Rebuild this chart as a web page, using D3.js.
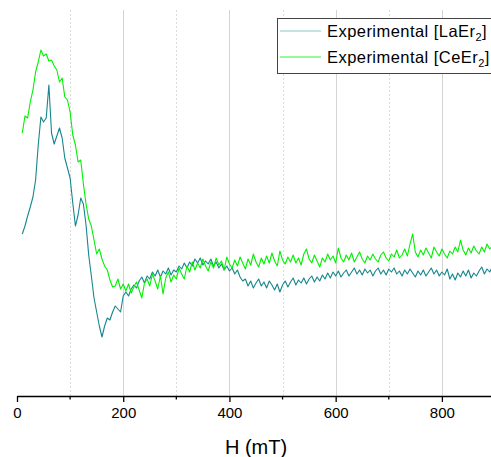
<!DOCTYPE html>
<html>
<head>
<meta charset="utf-8">
<script src="https://cdn.jsdelivr.net/npm/d3@7"></script>
<style>
  body { margin: 0; background: #fff; }
  svg { display: block; font-family: Arial, "Liberation Sans", sans-serif; }
</style>
</head>
<body>
<svg id="mainSvg" width="491" height="457"></svg>
<script>
// field values H (mT)
var fieldH = [10,15,20,25,30,35,40,45,50,55,60,65,70,75,80,85,90,95,100,105,110,115,120,125,130,135,140,145,150,155,160,165,170,175,180,185,190,195,
  200,205,210,215,220,225,230,235,240,245,250,255,260,265,270,275,280,285,290,295,300,305,310,315,320,325,330,335,340,345,350,355,360,365,370,375,380,385,390,395,
  400,405,410,415,420,425,430,435,440,445,450,455,460,465,470,475,480,485,490,495,500,505,510,515,520,525,530,535,540,545,550,555,560,565,570,575,580,585,590,595,
  600,605,610,615,620,625,630,635,640,645,650,655,660,665,670,675,680,685,690,695,700,705,710,715,720,725,730,735,740,745,750,755,760,765,770,775,780,785,790,795,
  800,805,810,815,820,825,830,835,840,845,850,855,860,865,870,875,880,885,890,895];

// Experimental [LaEr2] (arb. units)
var laEr2 = [1.62,1.70,1.80,1.89,1.99,2.16,2.51,2.79,2.74,2.78,3.11,2.63,2.52,2.60,2.68,2.58,2.38,2.28,2.18,1.93,1.70,1.81,1.98,1.92,1.71,1.41,1.20,0.98,0.84,0.70,0.59,0.70,0.78,0.76,0.84,0.90,0.87,0.84,
  1.00,1.04,1.00,1.07,1.11,1.08,1.15,1.19,1.13,1.20,1.17,1.24,1.20,1.26,1.19,1.25,1.22,1.28,1.21,1.26,1.24,1.30,1.27,1.33,1.28,1.34,1.30,1.37,1.33,1.38,1.31,1.35,1.32,1.37,1.30,1.34,1.28,1.32,1.26,1.30,
  1.25,1.28,1.22,1.26,1.19,1.15,1.17,1.10,1.15,1.08,1.13,1.17,1.10,1.14,1.08,1.15,1.11,1.06,1.12,1.04,1.11,1.15,1.09,1.14,1.18,1.11,1.16,1.13,1.18,1.12,1.17,1.20,1.14,1.19,1.15,1.21,1.17,1.23,1.18,1.24,
  1.20,1.25,1.19,1.23,1.26,1.20,1.24,1.28,1.22,1.26,1.21,1.27,1.23,1.26,1.20,1.25,1.28,1.22,1.26,1.21,1.27,1.24,1.28,1.22,1.25,1.20,1.26,1.22,1.27,1.23,1.19,1.25,1.21,1.26,1.20,1.24,1.28,1.22,1.26,1.20,
  1.24,1.21,1.27,1.17,1.22,1.16,1.23,1.19,1.25,1.20,1.26,1.18,1.23,1.20,1.25,1.29,1.22,1.27,1.24,1.29];

// Experimental [CeEr2] (arb. units)
var ceEr2 = [2.63,2.80,2.78,2.94,3.06,3.24,3.34,3.46,3.40,3.42,3.35,3.36,3.30,3.26,3.14,3.18,2.99,2.96,2.84,2.61,2.51,2.34,2.36,2.12,1.92,1.77,1.70,1.56,1.42,1.47,1.37,1.30,1.26,1.16,1.09,1.10,1.17,1.07,
  1.12,1.05,1.12,1.03,1.09,1.14,1.06,0.98,1.13,1.17,1.10,1.22,1.15,1.07,1.20,1.02,1.18,1.24,1.14,1.21,1.17,1.28,1.22,1.17,1.30,1.24,1.34,1.26,1.33,1.28,1.37,1.30,1.25,1.34,1.28,1.38,1.31,1.35,1.26,1.39,
  1.32,1.28,1.36,1.30,1.39,1.33,1.27,1.37,1.31,1.42,1.34,1.29,1.38,1.32,1.40,1.33,1.43,1.35,1.30,1.45,1.36,1.32,1.39,1.34,1.41,1.33,1.38,1.31,1.42,1.47,1.37,1.33,1.41,1.35,1.29,1.38,1.34,1.42,1.36,1.40,
  1.33,1.48,1.38,1.34,1.41,1.36,1.43,1.34,1.39,1.44,1.37,1.33,1.40,1.36,1.42,1.37,1.34,1.41,1.44,1.38,1.35,1.42,1.39,1.46,1.38,1.41,1.47,1.40,1.52,1.62,1.44,1.39,1.46,1.41,1.48,1.43,1.38,1.49,1.44,1.40,
  1.47,1.42,1.38,1.45,1.42,1.49,1.44,1.56,1.46,1.41,1.48,1.43,1.50,1.45,1.42,1.49,1.44,1.52,1.47,1.50];

var seriesNames = ["Experimental [LaEr", "Experimental [CeEr"];
var seriesColors = ["#15868c", "#00f000"];
var legendColors = ["#86c9cc", "#33f033"];
var xTicks = [0, 200, 400, 600, 800];
var xMinorTicks = [100, 300, 500, 700];

var svg = d3.select("#mainSvg");

var x = d3.scaleLinear().domain([0, 900]).range([17, 495]);
var y = d3.scaleLinear().domain([0, 3.86]).range([396, 10]);

// grid
var grid = svg.append("g").attr("class", "grid");
grid.selectAll(".gmaj")
  .data(xTicks.slice(1))
  .enter().append("line")
  .attr("x1", function(d) { return Math.round(x(d)) + 0.5; })
  .attr("x2", function(d) { return Math.round(x(d)) + 0.5; })
  .attr("y1", y.range()[1]).attr("y2", y.range()[0])
  .attr("stroke", "#d4d4d4").attr("stroke-width", 1);
grid.selectAll(".gmin")
  .data(xMinorTicks)
  .enter().append("line")
  .attr("x1", function(d) { return Math.round(x(d)) + 0.5; })
  .attr("x2", function(d) { return Math.round(x(d)) + 0.5; })
  .attr("y1", y.range()[1]).attr("y2", y.range()[0])
  .attr("stroke", "#dcdcdc").attr("stroke-width", 1)
  .attr("stroke-dasharray", "2,2");

// lines
var line = d3.line()
  .x(function(d, i) { return x(fieldH[i]); })
  .y(function(d) { return y(d); });

[laEr2, ceEr2].forEach(function(s, k) {
  svg.append("path")
    .datum(s)
    .attr("fill", "none")
    .attr("stroke", seriesColors[k])
    .attr("stroke-width", 1.1)
    .attr("stroke-linejoin", "round")
    .attr("d", line);
});

// x axis
var xAxis = svg.append("g")
  .attr("transform", "translate(0,396)")
  .call(d3.axisBottom(x).tickValues(xTicks).tickSize(6).tickSizeOuter(0).tickPadding(5));
xAxis.select(".domain").attr("stroke", "#000").attr("stroke-width", 1.3);
xAxis.selectAll(".tick line").attr("stroke-width", 1.3);
xAxis.selectAll("text").attr("font-size", "15px").attr("fill", "#000")
  .attr("font-family", "Arial, 'Liberation Sans', sans-serif");

svg.append("g")
  .attr("transform", "translate(0,396)")
  .selectAll("line")
  .data(xMinorTicks)
  .enter().append("line")
  .attr("x1", function(d) { return x(d); })
  .attr("x2", function(d) { return x(d); })
  .attr("y1", 0).attr("y2", 3.5)
  .attr("stroke", "#000").attr("stroke-width", 1.3);

svg.append("text")
  .attr("x", 256).attr("y", 454)
  .attr("text-anchor", "middle")
  .attr("font-size", "20px")
  .text("H (mT)");

// legend
var legend = svg.append("g").attr("class", "legend");
legend.append("rect")
  .attr("x", 277.5).attr("y", 18.5)
  .attr("width", 230).attr("height", 55)
  .attr("fill", "#fff").attr("stroke", "#444").attr("stroke-width", 1);

seriesNames.forEach(function(name, k) {
  var ly = 31 + k * 26;
  legend.append("line")
    .attr("x1", 280).attr("x2", 321)
    .attr("y1", ly).attr("y2", ly)
    .attr("stroke", legendColors[k]).attr("stroke-width", 1.2);
  var t = legend.append("text")
    .attr("x", 327).attr("y", ly + 6)
    .attr("font-size", "16.5px")
    .attr("letter-spacing", "0.45px");
  t.append("tspan").text(name);
  t.append("tspan").attr("font-size", "11px").attr("dy", 4).text("2");
  t.append("tspan").attr("dy", -4).text("]");
});
</script>
</body>
</html>
